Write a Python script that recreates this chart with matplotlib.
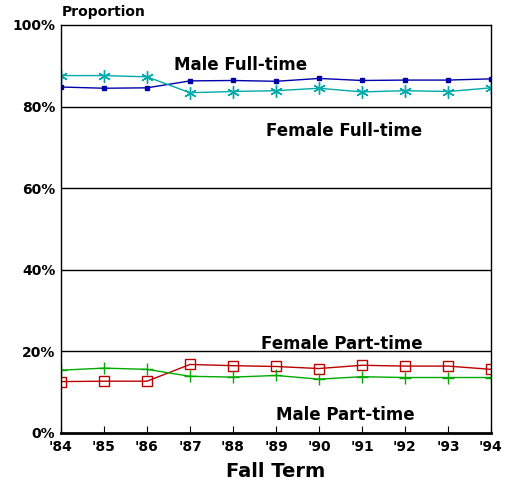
import matplotlib
matplotlib.use('Agg')
import matplotlib.pyplot as plt

years = ["'84", "'85", "'86", "'87", "'88", "'89", "'90", "'91", "'92", "'93", "'94"]
male_full = [84.8, 84.5, 84.6, 86.3, 86.4, 86.2, 86.9, 86.4, 86.5, 86.5, 86.8]
female_full = [87.6, 87.6, 87.3, 83.4, 83.7, 83.9, 84.5, 83.6, 83.9, 83.7, 84.6]
female_part = [12.6, 12.7, 12.7, 16.8, 16.5, 16.3, 15.8, 16.6, 16.4, 16.4, 15.6]
male_part = [15.4, 15.9, 15.6, 13.9, 13.7, 14.1, 13.2, 13.8, 13.6, 13.6, 13.6]
yticks = [0, 20, 40, 60, 80, 100]

plt.rcParams['font.family'] = ['DejaVu Sans']
fig = plt.figure(figsize=(5.06, 4.84), dpi=100)
ax = fig.add_axes([61 / 506, 51 / 484, 430 / 506, 408 / 484])

x = range(len(years))
ax.plot(x, male_full, color='#0000aa', lw=1, marker='s', ms=3)
ax.plot(x, female_full, color='#00aaaa', lw=1, marker=(6, 2, 0), ms=9, mew=1)
ax.plot(x, female_part, color='#bb0000', lw=1, marker='s', ms=7, mfc='none', mew=1)
ax.plot(x, male_part, color='#00aa00', lw=1, marker='+', ms=9, mew=1)

for y in yticks[1:-1]:
    ax.axhline(y, color='black', lw=1, zorder=0)

ax.set_xlim(0, len(years) - 1)
ax.set_ylim(0, 100)
ax.set_xticks(list(x))
ax.set_xticklabels(years, fontsize=10, fontweight='bold')
ax.set_yticks(yticks)
ax.set_yticklabels([f'{v}%' for v in yticks], fontsize=10, fontweight='bold')
ax.tick_params(axis='x', direction='in', length=5, pad=5)
ax.tick_params(axis='y', length=0, pad=4)
for s in ax.spines.values():
    s.set_linewidth(1)
ax.spines['bottom'].set_linewidth(2)

lab = dict(fontsize=12, fontweight='bold', ha='center', va='center')
ax.text(4.17, 90.2, 'Male Full-time', **lab)
ax.text(6.58, 74.0, 'Female Full-time', **lab)
ax.text(6.53, 21.8, 'Female Part-time', **lab)
ax.text(6.62, 4.5, 'Male Part-time', **lab)

fig.text(62 / 506, 1 - 12 / 484, 'Proportion', fontsize=10, fontweight='bold', ha='left', va='center')
ax.set_xlabel('Fall Term', fontsize=14, fontweight='bold', labelpad=6)

fig.savefig('out.png', dpi=100)
